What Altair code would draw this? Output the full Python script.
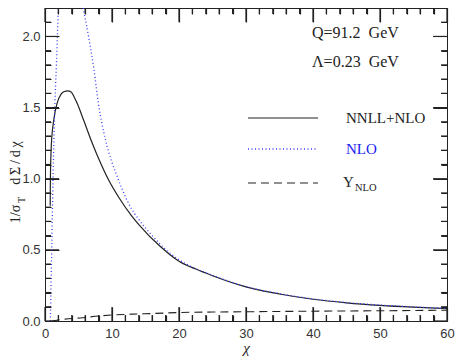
import altair as alt
import pandas as pd

# ---- data ----
nnll_x = [0.78, 0.8, 0.95, 1.3, 1.8, 2.4, 2.9, 3.4, 3.9, 4.35, 4.8, 5.8, 7.0, 8.0, 9.6,
          11.0, 12.9, 14.0, 17.3, 20, 22.5, 25, 30, 35, 40, 45, 50, 55, 60]
nnll_y = [0.81, 0.98, 1.24, 1.41, 1.53, 1.595, 1.613, 1.617, 1.61, 1.575, 1.53, 1.407, 1.257,
          1.142, 0.982, 0.87, 0.741, 0.678, 0.52, 0.42, 0.365, 0.318, 0.24, 0.19, 0.153, 0.128,
          0.11, 0.097, 0.087]

# NLO: visible parts only (it leaves the frame between x~2 and x~5.7)
nlo_left_x = [0.8, 1.0, 1.2, 1.4, 1.7, 2.0]
nlo_left_y = [0.0, 0.5, 1.0, 1.41, 1.8, 2.2]
nlo_right_x = [5.7, 6.5, 7.3, 8.0, 9.0, 10.9, 12.9, 13.9, 16.0, 18.3, 20, 22.5, 25, 30, 35,
               40, 45, 50, 55, 60]
nlo_right_y = [2.2, 2.0, 1.77, 1.52, 1.28, 1.0, 0.79, 0.72, 0.6, 0.49, 0.43, 0.368, 0.321,
               0.242, 0.192, 0.155, 0.13, 0.112, 0.099, 0.089]

ynlo_x = [1.0, 1.9, 3.0, 5.6, 8, 10, 13, 16.3, 20.2, 25, 30, 40, 50, 60]
ynlo_y = [0.0, 0.007, 0.013, 0.023, 0.035, 0.042, 0.048, 0.053, 0.06, 0.063, 0.065,
          0.069, 0.072, 0.076]

x_major = [0, 10, 20, 30, 40, 50, 60]
x_minor = [2, 4, 6, 8, 12, 14, 16, 18, 22, 24, 26, 28, 32, 34, 36, 38, 42, 44, 46, 48,
           52, 54, 56, 58]
y_major = [0.0, 0.5, 1.0, 1.5, 2.0]
y_minor = [0.1, 0.2, 0.3, 0.4, 0.6, 0.7, 0.8, 0.9, 1.1, 1.2, 1.3, 1.4, 1.6, 1.7, 1.8,
           1.9, 2.1]

legend_labels = ["NNLL+NLO", "NLO", "Y"]
info_labels = ["Q=91.2\u00a0\u00a0GeV", "\u039b=0.23\u00a0\u00a0GeV"]

W, H = 402, 313
SERIF = "Liberation Serif"
SANS = "Liberation Sans"
INK = "#222"
BLUE = "#3a3aff"
MAJ, MIN = 14, 6
TW = 1.2

xs = alt.Scale(domain=[0, 60], nice=False, zero=False)
ys = alt.Scale(domain=[0, 2.2], nice=False, zero=False)

lab = dict(labelFontSize=13, labelFont=SANS, labelColor="#333",
           labelFlush=False, labelOverlap=False)

# grid lines dashed so that only the two ends (inward ticks) are drawn
ax_bottom = alt.Axis(orient="bottom", values=x_major, ticks=False, domain=False,
                     grid=True, gridColor=INK, gridOpacity=1, gridWidth=TW,
                     gridDash=[MAJ, H - 2 * MAJ, MAJ, 2000],
                     format="d", labelPadding=6, **lab,
                     title="\u03c7", titleFont=SERIF, titleFontSize=15,
                     titleFontStyle="italic", titleFontWeight="normal",
                     titleBaseline="middle", titleY=26, titleColor=INK)
ax_left = alt.Axis(orient="left", values=y_major, ticks=False, domain=False,
                   grid=True, gridColor=INK, gridOpacity=1, gridWidth=TW,
                   gridDash=[MAJ, W - 2 * MAJ, MAJ, 2000],
                   format=".1f", labelPadding=5, **lab, title=None)
ax_bottom_minor = alt.Axis(orient="bottom", values=x_minor, ticks=False, domain=False,
                           labels=False, title=None, grid=True, gridColor=INK,
                           gridOpacity=1, gridWidth=TW,
                           gridDash=[MIN, H - 2 * MIN, MIN, 2000])
ax_left_minor = alt.Axis(orient="left", values=y_minor, ticks=False, domain=False,
                         labels=False, title=None, grid=True, gridColor=INK,
                         gridOpacity=1, gridWidth=TW,
                         gridDash=[MIN, W - 2 * MIN, MIN, 2000])

nnll = pd.DataFrame({"x": nnll_x, "y": nnll_y})
nlo = pd.concat([
    pd.DataFrame({"x": nlo_left_x, "y": nlo_left_y, "b": "left"}),
    pd.DataFrame({"x": nlo_right_x, "y": nlo_right_y, "b": "right"}),
])
ynlo = pd.DataFrame({"x": ynlo_x, "y": ynlo_y})

XN = alt.X("x:Q", scale=xs, axis=None)
YN = alt.Y("y:Q", scale=ys, axis=None)

l_nnll = alt.Chart(nnll).mark_line(color=INK, strokeWidth=1.2,
                                   interpolate="monotone").encode(
    x=alt.X("x:Q", scale=xs, axis=ax_bottom),
    y=alt.Y("y:Q", scale=ys, axis=ax_left))
l_nlo = alt.Chart(nlo).mark_line(color=BLUE, strokeWidth=1.3, strokeDash=[1, 2.5],
                                 interpolate="monotone").encode(
    x=alt.X("x:Q", scale=xs, axis=ax_bottom_minor),
    y=alt.Y("y:Q", scale=ys, axis=ax_left_minor),
    detail="b:N")
l_ynlo = alt.Chart(ynlo).mark_line(color=INK, strokeWidth=1.1, strokeDash=[8, 5],
                                   interpolate="monotone").encode(x=XN, y=YN)


# the same inward ticks, also drawn as rules (they coincide with the grid ends)
def xticks(vals, length):
    df = pd.DataFrame({"x": vals})
    bot = alt.Chart(df).mark_rule(color=INK, strokeWidth=TW).encode(
        x=XN, y=alt.value(H - length), y2=alt.value(H))
    top = alt.Chart(df).mark_rule(color=INK, strokeWidth=TW).encode(
        x=XN, y=alt.value(0), y2=alt.value(length))
    return [bot, top]


def yticks(vals, length):
    df = pd.DataFrame({"y": vals})
    left = alt.Chart(df).mark_rule(color=INK, strokeWidth=TW).encode(
        y=YN, x=alt.value(0), x2=alt.value(length))
    right = alt.Chart(df).mark_rule(color=INK, strokeWidth=TW).encode(
        y=YN, x=alt.value(W - length), x2=alt.value(W))
    return [left, right]


ticks = xticks(x_major, MAJ) + xticks(x_minor, MIN) + yticks(y_major, MAJ) + yticks(y_minor, MIN)

one = pd.DataFrame({"k": [0]})


def txt(s, x, y, size=15, color=INK, font=SERIF, align="left", angle=0):
    return alt.Chart(one).mark_text(
        text=s, font=font, fontSize=size, color=color, align=align, baseline="middle",
        angle=angle).encode(x=alt.value(x), y=alt.value(y))


def seg(x1, x2, y, color, dash, sw):
    kw = dict(color=color, strokeWidth=sw)
    if dash:
        kw["strokeDash"] = dash
    return alt.Chart(one).mark_rule(**kw).encode(
        x=alt.value(x1), x2=alt.value(x2), y=alt.value(y))


legend = [
    seg(203, 273, 110, INK, None, 1.2),
    txt(legend_labels[0], 301, 110),
    seg(203, 273, 141, BLUE, [1, 2.5], 1.3),
    txt(legend_labels[1], 301, 141, color="#2020ee"),
    seg(203, 273, 175, INK, [8, 5], 1.1),
    txt(legend_labels[2], 298, 174),
    txt("NLO", 310, 180, size=10.5),
    txt(info_labels[0], 267, 25, size=16),
    txt(info_labels[1], 267, 54, size=16),
]

ytitle = [
    txt("1/\u03c3", -29.5, 206, size=14, align="center", angle=270),
    txt("T", -23.5, 192, size=10, align="center", angle=270),
    txt("d\u2009\u03a3\u2009/\u2009d\u2009\u03c7", -29.5, 155, size=14, align="center",
        angle=270),
]

chart = alt.layer(l_nnll, l_nlo, l_ynlo, *legend, *ytitle, *ticks).resolve_axis(
    x="independent", y="independent"
).properties(
    width=W, height=H,
    autosize=alt.AutoSizeParams(type="none"),
    padding={"left": 37, "top": 0, "right": 8, "bottom": 39},
).configure_view(stroke=INK, strokeWidth=1)

chart.save("out.html", embed_options={"renderer": "svg", "actions": False})
